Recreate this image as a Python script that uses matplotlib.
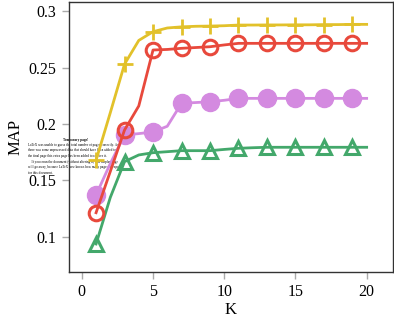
import numpy as np
import matplotlib
matplotlib.use("Agg")
import matplotlib.pyplot as plt

plt.rcParams["font.family"] = ["Liberation Serif", "DejaVu Serif"]

K = list(range(1, 21))

map_plus = [0.168, 0.21, 0.253, 0.274, 0.2817, 0.285, 0.286, 0.2865, 0.2867, 0.287,
            0.2876, 0.2876, 0.2877, 0.2877, 0.2878, 0.2878, 0.288, 0.288, 0.2882, 0.2882]
map_ring = [0.1215, 0.158, 0.1947, 0.216, 0.2655, 0.266, 0.267, 0.2677, 0.2684, 0.270,
            0.2714, 0.2714, 0.2714, 0.2714, 0.2714, 0.2714, 0.2714, 0.2714, 0.2714, 0.2714]
map_dot = [0.1372, 0.165, 0.1903, 0.1915, 0.193, 0.198, 0.2183, 0.219, 0.2197, 0.221,
           0.2227, 0.2227, 0.2227, 0.2227, 0.2227, 0.2227, 0.2227, 0.2227, 0.2227, 0.2227]
map_tri = [0.0938, 0.135, 0.1667, 0.1726, 0.1746, 0.1755, 0.1764, 0.1764, 0.1764, 0.1775,
           0.1785, 0.179, 0.1794, 0.1794, 0.1794, 0.1794, 0.1794, 0.1794, 0.1794, 0.1794]

tmp_title = "Temporary page!"
tmp_body = ("LaTeX was unable to guess the total number of pages correctly. As\n"
            "there was some unprocessed data that should have been added to\n"
            "the final page this extra page has been added to receive it.\n"
            "    If you rerun the document (without altering it) this surplus page\n"
            "will go away, because LaTeX now knows how many pages to expect\n"
            "for this document.")

fig = plt.figure(figsize=(3.94, 3.19), dpi=100)
ax = fig.add_axes([69 / 394, 1 - 272 / 319, (393 - 69) / 394, (272 - 2) / 319])

# temporary-page text sits behind the curves
ax.text(76 / 394, 1 - 140 / 319, tmp_title, transform=fig.transFigure, fontsize=2.4,
        ha="center", va="center", zorder=1, fontweight="bold")
ax.text(28 / 394, 1 - 143 / 319, tmp_body, transform=fig.transFigure, fontsize=2.4,
        ha="left", va="top", zorder=1, linespacing=1.5)

lw = 2
ax.plot(K, map_dot, color="#d48ae0", lw=lw, marker="o", ms=13, markevery=2, zorder=3)
ax.plot(K, map_tri, color="#43a86b", lw=lw, marker="^", ms=10, mfc="none", mew=2.2,
        markevery=2, zorder=3)
ax.plot(K, map_ring, color="#e8493c", lw=lw, marker="o", ms=10.5, mfc="none", mew=2.2,
        markevery=2, zorder=4)
ax.plot(K, map_plus, color="#e2c12a", lw=lw, marker="+", ms=11.5, mew=2,
        markevery=2, zorder=5)

ax.set_xlim(-0.9, 21.85)
ax.set_ylim(0.069, 0.308)
ax.set_xticks([0, 5, 10, 15, 20])
ax.set_yticks([0.1, 0.15, 0.2, 0.25, 0.3])
ax.set_yticklabels(["0.1", "0.15", "0.2", "0.25", "0.3"])
ax.tick_params(length=5, width=1, color="#aaaaaa", labelsize=11.5, pad=4)
for s in ax.spines.values():
    s.set_color("#333333")
    s.set_linewidth(1)

ax.set_xlabel("K", fontsize=12, labelpad=1)
ax.set_ylabel("MAP", fontsize=12, labelpad=4)

fig.savefig("out.png", dpi=100)
